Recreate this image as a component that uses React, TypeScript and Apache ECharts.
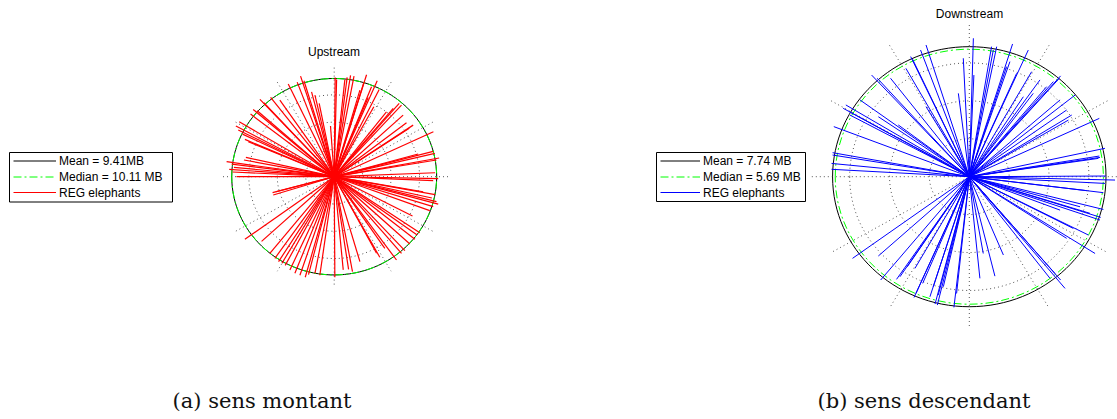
import React, { useEffect, useRef } from "react";
import * as echarts from "echarts";

// ---- data (compass components, MB) ----
const upU = [0.09,0.22,-0.34,0.98,1.19,1.5,1.82,2.97,2.72,3.95,4.13,-3.09,-3.4,-2.78,-4.22,-2.08,-1.77,-1.38,-4.99,-5.84,-6.82,-6.46,-7.44,-7.68,-7.07,-8.72,-9.03,-8.81,-8.42,-8.2,-7.89,-9.88,-9.42,-9.21,-9.64,-9.33,-8.97,-8.11,-8.29,-5.6,-5.36,-5.66,-8.2,-6.67,-5.91,-5.45,-5.11,-4.8,-4.5,-4.07,-3.61,-3.15,-2.66,-2.36,-1.77,-1.32,0.06,0.83,1.32,1.68,2.36,3.89,4.19,4.65,5.72,6.18,6.49,6.95,7.41,7.62,7.86,7.19,8.78,9.09,9.55,9.39,8.97,9.27,8.17,9.09,9.55,9.27,9.39,9.64,9.24,9.09,7.71,9.11,7.25,6.89,6.64,6.33,6.18,5.97,5.42,4.8,3.64,3.12,2.36,3.43];
const upV = [9.51,9.31,4.85,9.31,9.51,9.7,9.63,9.76,9.0,9.19,8.36,9.63,9.06,9.19,8.87,8.13,7.82,7.02,7.34,7.59,7.4,7.08,6.44,6.0,6.32,5.26,4.85,4.47,4.08,3.57,3.35,1.44,1.21,0.89,0.7,0.45,0.0,1.85,1.6,-1.75,-1.44,-1.53,-6.0,-6.19,-7.34,-7.82,-8.13,-8.29,-8.49,-8.93,-9.25,-9.44,-9.63,-9.38,-9.25,-9.44,-9.63,-8.93,-8.87,-9.09,-8.13,-7.34,-7.72,-6.86,-7.98,-7.34,-7.08,-6.44,-6.0,-5.58,-5.36,-3.76,-3.25,-2.87,-2.62,-2.39,-2.04,-1.72,-1.44,-0.38,-0.19,0.38,1.6,1.79,2.23,2.42,2.17,4.31,4.94,4.63,5.17,5.9,6.86,7.02,6.54,6.22,6.7,7.59,8.29,8.61];
const downU = [0.23,-0.34,-0.62,0.26,1.26,1.36,1.55,2.45,3.34,2.3,2.11,2.68,-2.45,-2.76,-3.32,-3.21,-3.59,-4.46,-5.53,-5.21,-6.19,-6.99,-7.14,-6.8,-6.76,-5.15,-4.02,-7.67,-7.74,-7.74,-7.8,-7.8,-2.45,-6.61,-5.15,-5.02,-4.12,-3.93,-3.51,-3.08,-3.13,-3.02,-2.64,-2.23,-2.04,-1.94,-1.81,-1.76,-1.47,-0.87,-0.72,0.6,1.45,1.93,0.79,5.42,5.17,4.57,4.85,7.12,6.74,5.51,5.89,5.14,6.83,7.4,7.59,7.44,6.27,8.25,7.68,7.59,6.65,7.74,7.68,7.36,7.4,7.31,7.36,5.8,5.61,5.99,5.14,5.1,5.17,4.76,4.0,4.38,3.62,3.06,5.51,3.53];
const downV = [8.24,7.05,4.96,6.05,7.74,7.54,7.74,7.9,7.54,6.85,6.55,6.15,7.84,7.54,7.15,6.99,6.45,5.86,6.05,5.86,4.57,4.27,4.07,3.87,3.67,3.57,3.08,2.98,1.43,1.29,0.79,0.44,4.17,-4.86,-4.72,-6.15,-6.11,-5.96,-5.36,-5.46,-7.19,-6.95,-6.35,-7.15,-6.55,-7.58,-7.64,-7.05,-6.55,-7.78,-6.95,-6.05,-5.92,-4.66,-4.57,-6.65,-6.15,-6.05,-5.76,-4.57,-3.47,-3.67,-3.08,-1.99,-2.18,-2.58,-1.95,-2.42,-1.79,-0.2,-0.4,-0.95,-0.83,0.04,1.69,1.23,1.15,1.09,3.47,3.67,3.37,4.86,4.57,5.86,6.0,5.66,5.76,5.36,4.96,4.76,3.97,6.25];

const upMeanLabel = "Mean = 9.41MB";
const upMedianLabel = "Median = 10.11 MB";
const downMeanLabel = "Mean = 7.74 MB";
const downMedianLabel = "Median = 5.69 MB";
const raysLabel = "REG elephants";

// circle radii as drawn (MB)
const upCircles = [9.41, 9.41]; // mean, median
const downCircles = [7.74, 7.59];
// polar grid
const upGridMax = 10.45;
const downGridMax = 9.03;
const downXRight = 8.36; // visible extent to the page's right edge
const spokeAngles = [0, 30, 60, 90, 120, 150];
const ringSteps = [0.25, 0.5, 0.75];

const SANS = "Liberation Sans, Arial, sans-serif";
const SERIF = "DejaVu Serif, serif";

function ellipseItem(stroke: string, lineDash: number[] | null, lw: number) {
  return (params: any, api: any) => {
    const r = api.value(0);
    const c = api.coord([0, 0]);
    const px = api.coord([r, 0]);
    const py = api.coord([0, r]);
    return {
      type: "ellipse",
      shape: { cx: c[0], cy: c[1], rx: px[0] - c[0], ry: c[1] - py[1] },
      style: { fill: "none", stroke, lineWidth: lw, lineDash: lineDash || undefined },
    };
  };
}

function plotSeries(idx: number, gmax: number, circles: number[], color: string, lw: number, u: number[], v: number[]) {
  const base = { type: "custom", xAxisIndex: idx, yAxisIndex: idx, silent: true, clip: false };
  return [
    {
      ...base,
      name: "spokes" + idx,
      data: spokeAngles.map((a) => [a, 0]),
      renderItem: (params: any, api: any) => {
        const a = (api.value(0) * Math.PI) / 180;
        const p1 = api.coord([gmax * Math.cos(a), gmax * Math.sin(a)]);
        const p2 = api.coord([-gmax * Math.cos(a), -gmax * Math.sin(a)]);
        return {
          type: "line",
          shape: { x1: p1[0], y1: p1[1], x2: p2[0], y2: p2[1] },
          style: { stroke: "#555", lineWidth: 1, lineDash: [1, 3] },
        };
      },
    },
    {
      ...base,
      name: "rings" + idx,
      data: ringSteps.map((f) => [f * gmax, 0]),
      renderItem: ellipseItem("#555", [1, 3], 1),
    },
    { ...base, name: "mean" + idx, data: [[circles[0], 0]], renderItem: ellipseItem("#000", null, 1) },
    { ...base, name: "median" + idx, data: [[circles[1], 0]], renderItem: ellipseItem("#00ff00", [8, 3, 2, 3], 1) },
    {
      ...base,
      name: "rays" + idx,
      data: u.map((x, i) => [x, v[i]]),
      renderItem: (params: any, api: any) => {
        const o = api.coord([0, 0]);
        const p = api.coord([api.value(0), api.value(1)]);
        return {
          type: "line",
          shape: { x1: o[0], y1: o[1], x2: p[0], y2: p[1] },
          style: { stroke: color, lineWidth: lw },
        };
      },
    },
  ];
}

function legend(x: number, y: number, w: number, h: number, lineEnd: number, labels: string[], rayColor: string) {
  const rows = [y + 8.5, y + 24.5, y + 40];
  const styles = [
    { stroke: "#000", lineDash: undefined },
    { stroke: "#00ff00", lineDash: [8, 3, 2, 3] },
    { stroke: rayColor, lineDash: undefined },
  ];
  const els: any[] = [
    { type: "rect", z: 100, shape: { x, y, width: w, height: h }, style: { fill: "#fff", stroke: "#000", lineWidth: 1 } },
  ];
  labels.forEach((t, i) => {
    els.push({
      type: "line",
      z: 101,
      shape: { x1: x + 4, y1: rows[i], x2: lineEnd, y2: rows[i] },
      style: { stroke: styles[i].stroke, lineWidth: 1, lineDash: styles[i].lineDash },
    });
    els.push({
      type: "text",
      z: 101,
      x: lineEnd + 3,
      y: rows[i],
      style: { text: t, fontSize: 12, fontFamily: SANS, fill: "#000", textAlign: "left", textVerticalAlign: "middle", verticalAlign: "middle" },
    });
  });
  return els;
}

function textEl(t: string, x: number, y: number, size: number, family: string, fill = "#000") {
  return {
    type: "text",
    z: 101,
    x,
    y,
    style: { text: t, fontSize: size, fontFamily: family, fill, textAlign: "center", textVerticalAlign: "middle", verticalAlign: "middle" },
  };
}

export default function App() {
  const ref = useRef<HTMLDivElement>(null);
  useEffect(() => {
    document.body.style.margin = "0";
    if (!ref.current) return;
    const chart = echarts.init(ref.current, null, { renderer: "svg" });
    const axis = (idx: number, lo: number, hi: number) => ({ gridIndex: idx, type: "value", min: lo, max: hi, show: false });
    // right plot: 17.66 px per MB horizontally, centre at x = 969.3
    const downPx = 319 / (2 * downGridMax);
    const downLeft = 969.3 - downGridMax * downPx;
    chart.setOption({
      animation: false,
      backgroundColor: "#fff",
      grid: [
        { left: 220.4, top: 67.6, width: 227.6, height: 218.2 },
        { left: downLeft, top: 25, width: (downGridMax + downXRight) * downPx, height: 303.4 },
      ],
      xAxis: [axis(0, -upGridMax, upGridMax), axis(1, -downGridMax, downXRight)],
      yAxis: [axis(0, -upGridMax, upGridMax), axis(1, -downGridMax, downGridMax)],
      series: [
        ...plotSeries(0, upGridMax, upCircles, "#ff0000", 1.2, upU, upV),
        ...plotSeries(1, downGridMax, downCircles, "#0000ff", 1, downU, downV),
      ],
      graphic: [
        textEl("Upstream", 334, 51.5, 12, SANS),
        textEl("Downstream", 969.5, 13.5, 12, SANS),
        ...legend(9.5, 152.5, 163, 49.5, 56, [upMeanLabel, upMedianLabel, raysLabel], "#ff0000"),
        ...legend(656.5, 152.5, 149, 49, 700, [downMeanLabel, downMedianLabel, raysLabel], "#0000ff"),
        textEl("(a) sens montant", 262, 401, 21, SERIF, "#111"),
        textEl("(b) sens descendant", 924, 401, 21, SERIF, "#111"),
      ],
    });
    return () => chart.dispose();
  }, []);
  return <div ref={ref} style={{ width: 1117, height: 419 }} />;
}
